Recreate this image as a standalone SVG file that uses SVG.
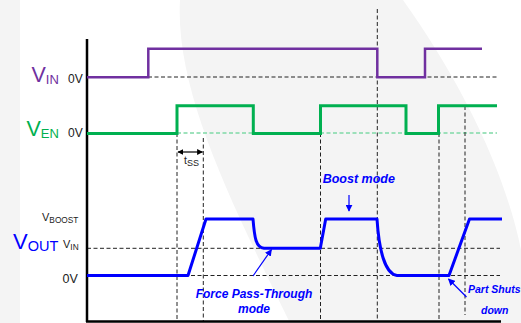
<svg xmlns="http://www.w3.org/2000/svg" width="521" height="323" viewBox="0 0 521 323">
<style>
.bg{fill:#f4f4f4}
.dash{fill:none;stroke:#222;stroke-width:1;stroke-dasharray:4 2.5}
.gdash{fill:none;stroke:#7fd9a6;stroke-width:1.5;stroke-dasharray:4 2.5}
.axis{fill:none;stroke:#000;stroke-width:2.5}
.vin{fill:none;stroke:#7030a0;stroke-width:2.5}
.ven{fill:none;stroke:#00b050;stroke-width:3}
.vout{fill:none;stroke:#0000ff;stroke-width:3;stroke-linejoin:round}
.t{font-family:"Liberation Sans",Arial,sans-serif;fill:#222}
.lbl{font-family:"Liberation Sans",Arial,sans-serif}
.note{font-family:"Liberation Sans",Arial,sans-serif;font-weight:bold;font-style:italic;fill:#0000ff}
.arr{fill:none;stroke:#0000ff;stroke-width:1.2}
</style>
<defs>
<marker id="ab" viewBox="0 0 10 10" refX="9" refY="5" markerWidth="7" markerHeight="7" orient="auto" markerUnits="userSpaceOnUse">
<path d="M0,0 L10,5 L0,10 z" fill="#0000ff"/>
</marker>
<marker id="ak" viewBox="0 0 10 10" refX="9" refY="5" markerWidth="6" markerHeight="6" orient="auto-start-reverse" markerUnits="userSpaceOnUse">
<path d="M0,0 L10,5 L0,10 z" fill="#000"/>
</marker>
</defs>
<rect width="521" height="323" fill="#fff"/>
<rect class="bg" x="0" y="0" width="20" height="323"/>
<path class="bg" d="M180,0 C175,90 230,200 290,323 L521,323 L521,250 C505,170 460,80 403,0 Z"/>

<g id="guides">
<path class="dash" d="M148,77 H497"/>
<path class="gdash" d="M177,133 H497"/>
<path class="dash" d="M87,248.3 H500 M87,275.5 H500"/>
<path class="dash" d="M177,133 V321 M203.3,138 V321 M320.5,133 V321 M377.3,9 V321 M439,133 V321 M465,106 V315"/>
</g>

<g id="axes">
<path class="axis" d="M87,39 V322 M86,321.5 H501"/>
</g>

<g id="vin-signal">
<path class="vin" d="M87,77.3 H148.3 V48.7 H377.3 V77.3 H425 V48.7 H482"/>
</g>
<g id="ven-signal">
<path class="ven" d="M87,133.5 H177 V105.7 H253.3 V133.5 H320.5 V105.7 H406 V133.5 H438.5 V105.7 H497"/>
</g>
<g id="vout-signal">
<path class="vout" d="M87,275.5 H188 L206,219 H253 C254.5,238 256,247.5 264,248.3 H320.3 L325.7,219 H377 C379,250 385,274 397,275.5 H449 L469.5,219 H502"/>
</g>

<g id="connectors">
<path class="arr" d="M349,195 V211" marker-end="url(#ab)"/>
<path class="arr" d="M253,276 L271.5,249.5" marker-end="url(#ab)"/>
<path class="arr" d="M466.5,297 L448.5,279" marker-end="url(#ab)"/>
<path d="M178,152 H202.5" fill="none" stroke="#000" stroke-width="1.2" marker-start="url(#ak)" marker-end="url(#ak)"/>
</g>

<g id="label-vin">
<text class="lbl" x="31.5" y="81.5" font-size="21.5" fill="#7030a0">V<tspan font-size="13" dy="2">IN</tspan></text>
<text class="t" x="68" y="82.5" font-size="12">0V</text>
</g>
<g id="label-ven">
<text class="lbl" x="26.5" y="135.5" font-size="21.5" fill="#00b050">V<tspan font-size="13" dy="2">EN</tspan></text>
<text class="t" x="68" y="136.5" font-size="12">0V</text>
</g>
<g id="label-vout">
<text class="lbl" x="13" y="249" font-size="22" fill="#0000ff">V<tspan font-size="14.5" dy="2">OUT</tspan></text>
<text class="t" x="42" y="221" font-size="11">V<tspan font-size="8.3" dy="1.5">BOOST</tspan></text>
<text class="t" x="63" y="248" font-size="11">V<tspan font-size="8.3" dy="1.5">IN</tspan></text>
<text class="t" x="62.5" y="283" font-size="12.5">0V</text>
</g>
<g id="label-tss">
<text class="t" x="184" y="164" font-size="10.5" fill="#333">t<tspan font-size="9" dy="2">SS</tspan></text>
</g>
<g id="label-boost">
<text class="note" x="322.7" y="183.3" font-size="12.5">Boost mode</text>
</g>
<g id="label-force">
<text class="note" x="254" y="298" font-size="12" text-anchor="middle">Force Pass-Through</text>
<text class="note" x="254" y="313" font-size="12" text-anchor="middle">mode</text>
</g>
<g id="label-shut">
<text class="note" x="468" y="293" font-size="10.5">Part Shuts</text>
<text class="note" x="481" y="314" font-size="10.5">down</text>
</g>
</svg>
